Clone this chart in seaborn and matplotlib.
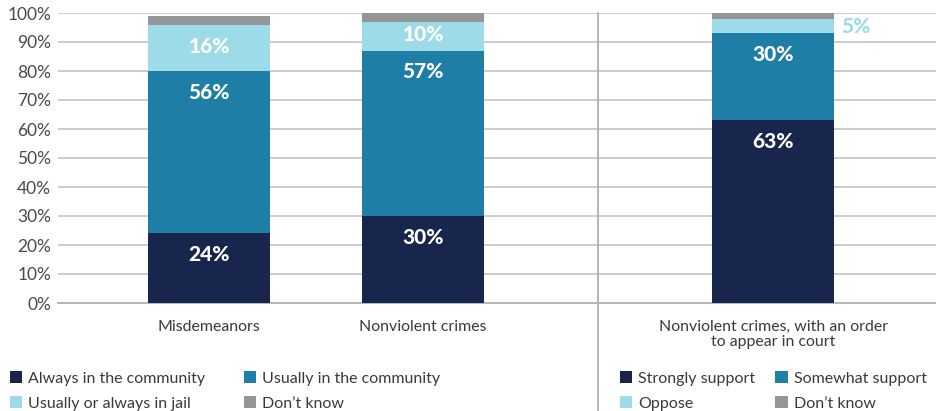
import matplotlib
matplotlib.use("Agg")
import matplotlib.pyplot as plt
from matplotlib.patches import Patch
import numpy as np
import pandas as pd
import seaborn as sns

# Survey results (percent of respondents)
categories = ["Misdemeanors", "Nonviolent crimes",
              "Nonviolent crimes, with an order\nto appear in court"]
positions = [0.0, 1.0, 2.636]
seg_dark = [24, 30, 63]    # Always in the community / Strongly support
seg_mid = [56, 57, 30]     # Usually in the community / Somewhat support
seg_light = [16, 10, 5]    # Usually or always in jail / Oppose
seg_gray = [3, 3, 2]       # Don't know
y_ticks = [0, 10, 20, 30, 40, 50, 60, 70, 80, 90, 100]

legend_left = ["Always in the community", "Usually in the community",
               "Usually or always in jail", "Don\u2019t know"]
legend_right = ["Strongly support", "Somewhat support", "Oppose", "Don\u2019t know"]

C_DARK = "#18254d"
C_MID = "#1f7ea6"
C_LIGHT = "#9ddbe9"
C_GRAY = "#939598"
GRID = "#c4c4c4"

sns.set_theme(style="white")
plt.rcParams["font.family"] = ["Lato", "DejaVu Sans"]

fig = plt.figure(figsize=(9.36, 4.11), dpi=100)
ax = fig.add_axes([58 / 936, 1 - 303 / 411, 1 - 58 / 936, (303 - 13) / 411])

# Stack the segments by drawing cumulative totals from the top down
layers = [seg_dark, seg_mid, seg_light, seg_gray]
colors = [C_DARK, C_MID, C_LIGHT, C_GRAY]
cum = np.cumsum(np.array(layers), axis=0)
for i in reversed(range(len(layers))):
    df = pd.DataFrame({"pos": positions, "value": cum[i]})
    sns.barplot(data=df, x="pos", y="value", native_scale=True, width=0.57,
                color=colors[i], saturation=1, errorbar=None, ax=ax,
                linewidth=0, zorder=3)

# Value labels
LABEL_SIZE = 15
bold = dict(color="white", fontsize=LABEL_SIZE, fontweight="black",
            ha="center", va="center", zorder=5)
for j, p in enumerate(positions):
    ax.text(p, cum[0][j] - 7.3, f"{seg_dark[j]}%", **bold)
    ax.text(p, cum[1][j] - 7.3, f"{seg_mid[j]}%", **bold)
    mid_light = cum[1][j] + seg_light[j] / 2
    if seg_light[j] >= 8:
        ax.text(p, mid_light + 0.5, f"{seg_light[j]}%", **bold)
    else:
        ax.text(p + 0.57 / 2 + 0.035, mid_light, f"{seg_light[j]}%",
                color=C_LIGHT, fontsize=LABEL_SIZE, fontweight="black",
                ha="left", va="center", zorder=5)

ax.set_xlim(-0.706, 3.397)
ax.set_ylim(0, 100)
ax.set_yticks(y_ticks)
ax.set_yticklabels([f"{t}%" for t in y_ticks], fontsize=12.5, color="#4a4a4a")
ax.set_xticks(positions)
ax.set_xticklabels(categories, fontsize=11.4, color="#3a3a3a",
                   linespacing=1.15)
ax.tick_params(axis="y", length=0, pad=5)
ax.tick_params(axis="x", length=0, pad=12)
ax.set_xlabel("")
ax.set_ylabel("")
ax.yaxis.grid(True, color=GRID, linewidth=1.2, zorder=0)
ax.set_axisbelow(True)
for s in ["top", "right", "left"]:
    ax.spines[s].set_visible(False)
ax.spines["bottom"].set_color("#b5b5b5")
ax.spines["bottom"].set_linewidth(1.4)

# Divider between the two question groups
ax.axvline(1.818, ymin=-0.38, ymax=1.0, color="#b5b5b5", linewidth=1.4,
           clip_on=False, zorder=1)

# Legends
def handles(labels):
    return [Patch(facecolor=c, edgecolor="none", label=l)
            for l, c in zip(labels, colors)]

legend_style = dict(ncol=2, frameon=False, loc="upper left", fontsize=11.5,
                    handlelength=0.78, handleheight=0.78, handletextpad=0.37,
                    labelspacing=0.68, borderpad=0, borderaxespad=0,
                    labelcolor="#3a3a3a")
order = [0, 2, 1, 3]
h_left = handles(legend_left)
fig.legend(handles=[h_left[k] for k in order],
           bbox_to_anchor=(10 / 936, 1 - 371 / 411), columnspacing=2.38,
           **legend_style)
h_right = handles(legend_right)
fig.legend(handles=[h_right[k] for k in order],
           bbox_to_anchor=(620 / 936, 1 - 371 / 411), columnspacing=1.25,
           **legend_style)

fig.savefig("out.png", dpi=100)
